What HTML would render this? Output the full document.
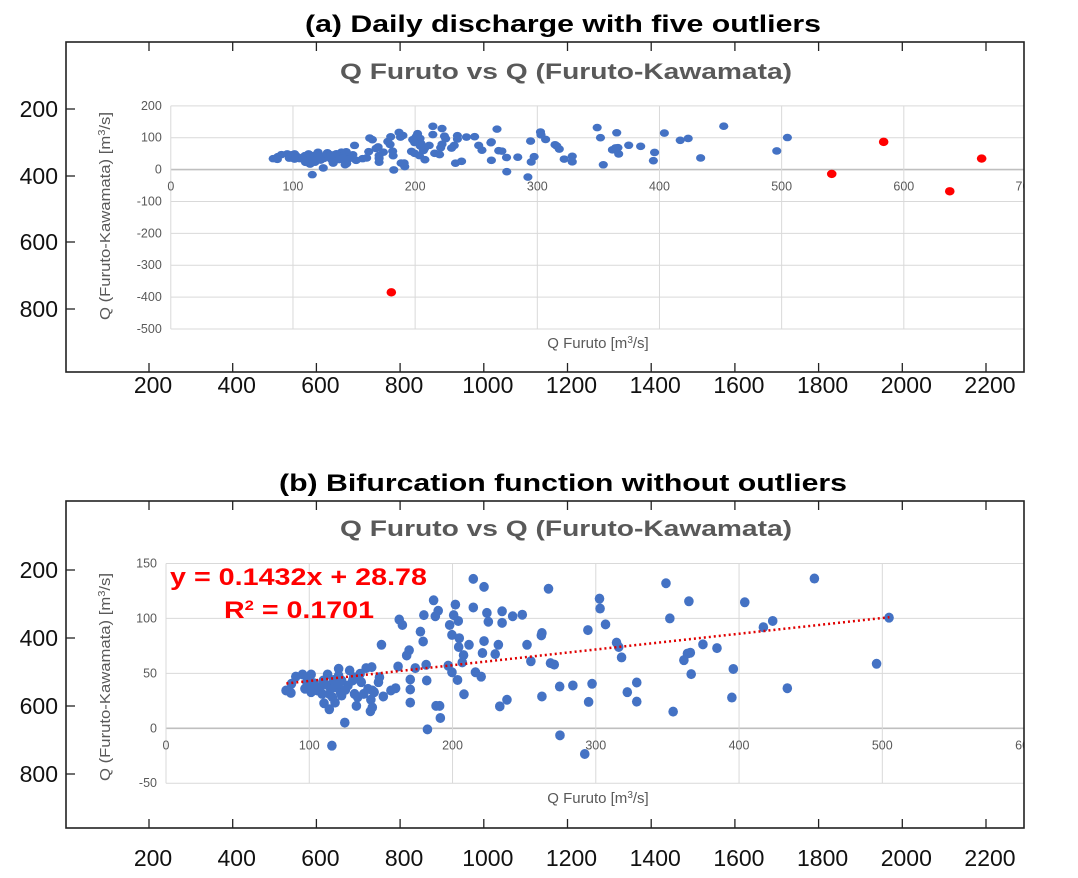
<!DOCTYPE html>
<html><head><meta charset="utf-8"><style>
html,body{margin:0;padding:0;background:#fff;}
svg{display:block;font-family:"Liberation Sans",Arial,sans-serif;}
</style></head><body>
<svg id="fig" width="1078" height="878" viewBox="0 0 1078 878">
<defs>
<clipPath id="clipA"><rect x="66" y="42" width="958" height="330"/></clipPath>
<clipPath id="clipB"><rect x="66" y="501" width="958" height="327"/></clipPath>
</defs>
<rect width="1078" height="878" fill="#fff"/>
<text x="563" y="32" font-size="24" font-weight="bold" text-anchor="middle" textLength="516" lengthAdjust="spacingAndGlyphs">(a) Daily discharge with five outliers</text>
<text x="563" y="491" font-size="24" font-weight="bold" text-anchor="middle" textLength="568" lengthAdjust="spacingAndGlyphs">(b) Bifurcation function without outliers</text>
<g id="gA" clip-path="url(#clipA)"></g>
<g id="gB" clip-path="url(#clipB)"></g>
<g id="frames"></g>
</svg>
<script>
// shared discharge data (Q Furuto, Q Furuto-Kawamata)
const qFuruto = [452.6,349,365,404,302.6,303,267,214.5,222,186.8,202,214.5,190,188,180,162.8,165,200.8,204,198,224,225,234.6,234.6,242,248.7,351.7,306.8,504.7,423.5,417,294.5,177.6,179.5,199.6,204.7,204.3,211.5,222,232,252,262,262.4,314.5,316,318,374.8,384.6,366,364,361.5,366.6,396,496,433.7,395,328.6,322,328.6,354,297.4,295,284,274.8,262.4,254.7,268.4,271,229.8,220.9,207.7,206.8,216,220,199.6,197,203.5,208,238,233,168,169.7,150.4,174,181.6,162,182,170.5,170.5,170.5,160.3,157,151.7,143,142.7,144,132.9,133.8,131.6,124.8,115.8,182.5,275,292.3,191,188.5,191.5,118,114,110.3,144.1,148.3,149,143.6,139.7,136.3,130.3,128.2,120.5,112.8,101.3,95.3,90.6,87.6,83.8,87.2,97,102,105.6,109,113.2,117.5,121.8,125.2,127,122.6,117,109.8,103.4,98.3,99,107.7,114,116.2,120.5,135.5,131,122.6,138,141,145.3,120.5,101.3];
const qDiff = [136.3,132,115.6,114.7,118,109,127,136,128.7,116.5,112.6,110,107,102,103,99,94,103,97.7,94,105,97,106.5,96,102,103.4,100,94.6,100.7,97.7,92,89.4,88,79,85,82,74,76,79.4,76,76,84.6,86.7,78,74,64.5,76.4,73,68.8,68,62,49.3,54,58.7,36.5,28,41.7,32.9,24.3,15.2,40.5,24,39,38,29,61,59.3,58,67.5,68.5,66.6,60,51,47,51,57,44,31,26,20,66.3,71,76,54.8,57.8,56.3,43.5,44.4,35.3,23.4,36.5,34.4,29,26,15.5,19,20.4,28.3,31.3,5.2,-15.8,-1,-6.4,-23.4,20.4,20.4,9.4,23.4,17.3,22.8,34.4,42,46.5,55.7,54.8,42,43.5,52.6,54.2,49,49,49,47,40.5,34.4,32.2,36,37.4,34.4,31.3,39,37.4,32.9,35,39,43.5,44,43.5,41,42,46.5,37.4,31.3,28.3,40.5,49.6,46.5,29.8,31.3,35.9,32.9,48,32.9];
const outX = [180.5,541,583.5,637.6,663.7];
const outY = [-385,-13.6,87,-68,34.6];
const aXTicks = [0,100,200,300,400,500,600,700];
const aYTicks = [200,100,0,-100,-200,-300,-400,-500];
const bXTicks = [0,100,200,300,400,500,600];
const bYTicks = [150,100,50,0,-50];
const slope = 0.1432, intercept = 28.78, fitMin = 84, fitMax = 505;
const outerX = [200,400,600,800,1000,1200,1400,1600,1800,2000,2200];
const outerY = [200,400,600,800];

const NS="http://www.w3.org/2000/svg";
function mk(parent,tag,attrs,txt){const e=document.createElementNS(NS,tag);for(const k in attrs)e.setAttribute(k,attrs[k]);if(txt!==undefined)e.textContent=txt;parent.appendChild(e);return e;}

const xa=v=>170.8+v*1.2217, ya=v=>169.6-v*0.3187;
const xb=v=>166+v*1.4326, yb=v=>728.3-v*1.0987;

function innerChart(g,xf,yf,xT,yT,top,bot,titleY,yTitleY,xTitleY){
  const t=mk(g,'text',{x:566,y:titleY,'font-size':22,'font-weight':'bold',fill:'#595959','text-anchor':'middle',textLength:452,lengthAdjust:'spacingAndGlyphs'});
  t.textContent='Q Furuto vs Q (Furuto-Kawamata)';
  
  
  yT.forEach(v=>{
    const l=mk(g,'line',{x1:xf(0),x2:1030,y1:yf(v),y2:yf(v),stroke:v===0?'#bfbfbf':'#d9d9d9','stroke-width':v===0?1.6:1});
    
    
    const tl=mk(g,'text',{x:xf(0)-9,y:yf(v)+4,'font-size':12.5,fill:'#595959','text-anchor':'end'},String(v));
    
    
  });
  xT.forEach(v=>{
    const l=mk(g,'line',{x1:xf(v),x2:xf(v),y1:top,y2:bot,stroke:'#d9d9d9','stroke-width':1});
    
    
    const tl=mk(g,'text',{x:xf(v),y:yf(0)+21,'font-size':12.5,fill:'#595959','text-anchor':'middle'},String(v));
    
    
  });
  const yt=mk(g,'text',{x:0,y:0,'font-size':15,fill:'#595959','text-anchor':'middle',transform:`translate(110,${yTitleY}) rotate(-90)`,textLength:208,lengthAdjust:'spacingAndGlyphs'});
  yt.innerHTML='Q (Furuto-Kawamata) [m<tspan dy="-5" font-size="10">3</tspan><tspan dy="5">/s]</tspan>';
  
  
  const xt=mk(g,'text',{x:598,y:xTitleY,'font-size':15,fill:'#595959','text-anchor':'middle'});
  xt.innerHTML='Q Furuto [m<tspan dy="-5" font-size="10">3</tspan><tspan dy="5">/s]</tspan>';
  
  
}
const gA=document.getElementById('gA'), gB=document.getElementById('gB');
innerChart(gA,xa,ya,aXTicks,aYTicks,ya(200),ya(-500),79,216,348);
innerChart(gB,xb,yb,bXTicks,bYTicks,yb(150),yb(-50),536,677,803);

qFuruto.forEach((x,i)=>{
  const a=mk(gA,'ellipse',{cx:xa(x),cy:ya(qDiff[i]),rx:4.6,ry:3.8,fill:'#4472c4'});
  
  
  const b=mk(gB,'ellipse',{cx:xb(x),cy:yb(qDiff[i]),rx:4.8,ry:5,fill:'#4472c4'});
  
  
});
outX.forEach((x,i)=>{
  const o=mk(gA,'ellipse',{cx:xa(x),cy:ya(outY[i]),rx:4.8,ry:4.2,fill:'#ff0000'});
  
  
});
const tr=mk(gB,'line',{x1:xb(fitMin),y1:yb(slope*fitMin+intercept),x2:xb(fitMax),y2:yb(slope*fitMax+intercept),stroke:'#e00000','stroke-width':2.5,'stroke-dasharray':'2 3'});


const eq=mk(gB,'text',{x:170,y:585,'font-size':24,'font-weight':'bold',fill:'#ff0000',textLength:257,lengthAdjust:'spacingAndGlyphs'},'y = 0.1432x + 28.78');


const r2=mk(gB,'text',{x:224,y:618,'font-size':24,'font-weight':'bold',fill:'#ff0000',textLength:150,lengthAdjust:'spacingAndGlyphs'});
r2.innerHTML='R<tspan dy="-8" font-size="14">2</tspan><tspan dy="8"> = 0.1701</tspan>';



const fr=document.getElementById('frames');
const oX=v=>153+(v-200)*(837/2000);
function frame(top,bot,yTicks,xLabY){
  const r=mk(fr,'rect',{x:66,y:top,width:958,height:bot-top,fill:'none',stroke:'#222','stroke-width':1.6});
  
  
  outerX.forEach(v=>{
    mk(fr,'line',{x1:oX(v)-4,x2:oX(v)-4,y1:top,y2:top+9,stroke:'#222','stroke-width':1.3});
    mk(fr,'line',{x1:oX(v)-4,x2:oX(v)-4,y1:bot,y2:bot-9,stroke:'#222','stroke-width':1.3});
    const t=mk(fr,'text',{x:oX(v),y:xLabY,'font-size':23,'text-anchor':'middle',fill:'#111'},String(v));
    
    
  });
  yTicks.forEach((y,i)=>{
    mk(fr,'line',{x1:66,x2:75,y1:y,y2:y,stroke:'#222','stroke-width':1.3});
    const t=mk(fr,'text',{x:58,y:y+8,'font-size':23,'text-anchor':'end',fill:'#111'},String(outerY[i]));
    
    
  });
}
frame(42,372,[109,176,242,309],393);
frame(501,828,[570,638,706,774],866);
</script>
</body></html>
